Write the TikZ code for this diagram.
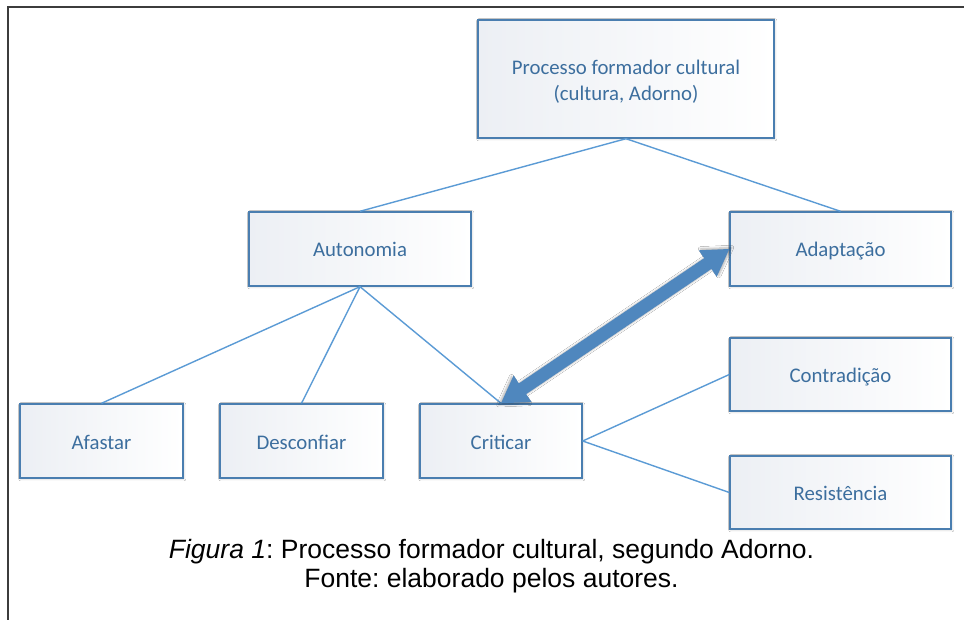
\documentclass[tikz,border=0pt]{standalone}
\usepackage{fontspec}
\setmainfont{Liberation Sans}
\newfontfamily\boxfont{Carlito}
\usetikzlibrary{calc,shadows.blur}
\frenchspacing

\definecolor{boxline}{RGB}{74,126,176}
\definecolor{boxtext}{RGB}{60,110,158}
\definecolor{linkblue}{RGB}{91,155,213}
\definecolor{arrowblue}{RGB}{79,135,190}
\definecolor{boxshade}{RGB}{236,239,244}
\definecolor{framegray}{RGB}{60,60,60}

\begin{document}
\begin{tikzpicture}[x=1pt,y=-1pt,
  boxbase/.style={draw=boxline, line width=1.4pt, left color=boxshade, right color=white,
    text=boxtext, font=\boxfont\fontsize{20.8}{26}\selectfont, align=center,
    inner sep=0pt, blur shadow={shadow xshift=0.8pt, shadow yshift=-0.8pt, shadow blur steps=4, shadow opacity=25}},
  boxone/.style={boxbase, text height=16pt, text depth=0pt},
  boxlabel/.style={text=boxtext, font=\boxfont\fontsize{20.8}{26}\selectfont, align=center, inner sep=0pt},
  link/.style={draw=linkblue, line width=1.4pt},
  caption/.style={anchor=base, font=\fontsize{26.5}{29}\selectfont, text=black}
]
\useasboundingbox (0,0) rectangle (964,620);
\fill[white] (0,0) rectangle (964,620);

% frame round the figure
\coordinate (fbl) at (8,620);
\coordinate (ftl) at (8,7);
\coordinate (ftr) at (964,7);
\draw[framegray, line width=1.8pt] (fbl) -- (ftl) -- (ftr);

% boxes
\node[boxbase, minimum width=296pt, minimum height=118pt,
  label={[boxlabel, yshift=-3pt]center:{Processo formador cultural\\(cultura, Adorno)}}] (proc) at (626,79) {};
\node[boxone, minimum width=222pt, minimum height=74pt] (auto) at (360,249) {Autonomia};
\node[boxone, minimum width=221pt, minimum height=74pt] (adap) at (840.5,249) {Adaptação};
\node[boxone, minimum width=163pt, minimum height=74pt] (afas) at (101.5,441) {Afastar};
\node[boxone, minimum width=163pt, minimum height=74pt] (desc) at (301.5,441) {Desconfiar};
\node[boxone, minimum width=162pt, minimum height=74pt] (crit) at (501,441) {Criticar};
\node[boxone, minimum width=221pt, minimum height=73pt] (cont) at (840.5,374.5) {Contradição};
\node[boxone, minimum width=221pt, minimum height=73pt] (resi) at (840.5,492.5) {Resistência};

% connectors
\draw[link] (proc.south) -- (auto.north);
\draw[link] (proc.south) -- (adap.north);
\draw[link] (auto.south) -- (afas.north);
\draw[link] (auto.south) -- (desc.north);
\draw[link] (auto.south) -- (crit.north);
\draw[link] (crit.east) -- (cont.west);
\draw[link] (crit.east) -- (resi.west);

% double-headed block arrow between Criticar and Adaptação
\coordinate (pa) at (crit.north);
\coordinate (pb) at (adap.west);
\fill[arrowblue, blur shadow={shadow xshift=0pt, shadow yshift=0pt, shadow blur steps=5, shadow opacity=30, shadow scale=1.02}]
  (pa)
  -- ($(pa)!26pt!(pb)!16pt!90:(pb)$)
  -- ($(pa)!26pt!(pb)!6.5pt!90:(pb)$)
  -- ($(pb)!26pt!(pa)!6.5pt!-90:(pa)$)
  -- ($(pb)!26pt!(pa)!16pt!-90:(pa)$)
  -- (pb)
  -- ($(pb)!26pt!(pa)!16pt!90:(pa)$)
  -- ($(pb)!26pt!(pa)!6.5pt!90:(pa)$)
  -- ($(pa)!26pt!(pb)!6.5pt!-90:(pb)$)
  -- ($(pa)!26pt!(pb)!16pt!-90:(pb)$)
  -- cycle;

% caption
\node[caption] (cap1) at (491.5,558) {\textit{Figura 1}: Processo formador cultural, segundo Adorno.};
\node[caption] (cap2) at (491.5,587) {Fonte: elaborado pelos autores.};
\end{tikzpicture}
\end{document}
